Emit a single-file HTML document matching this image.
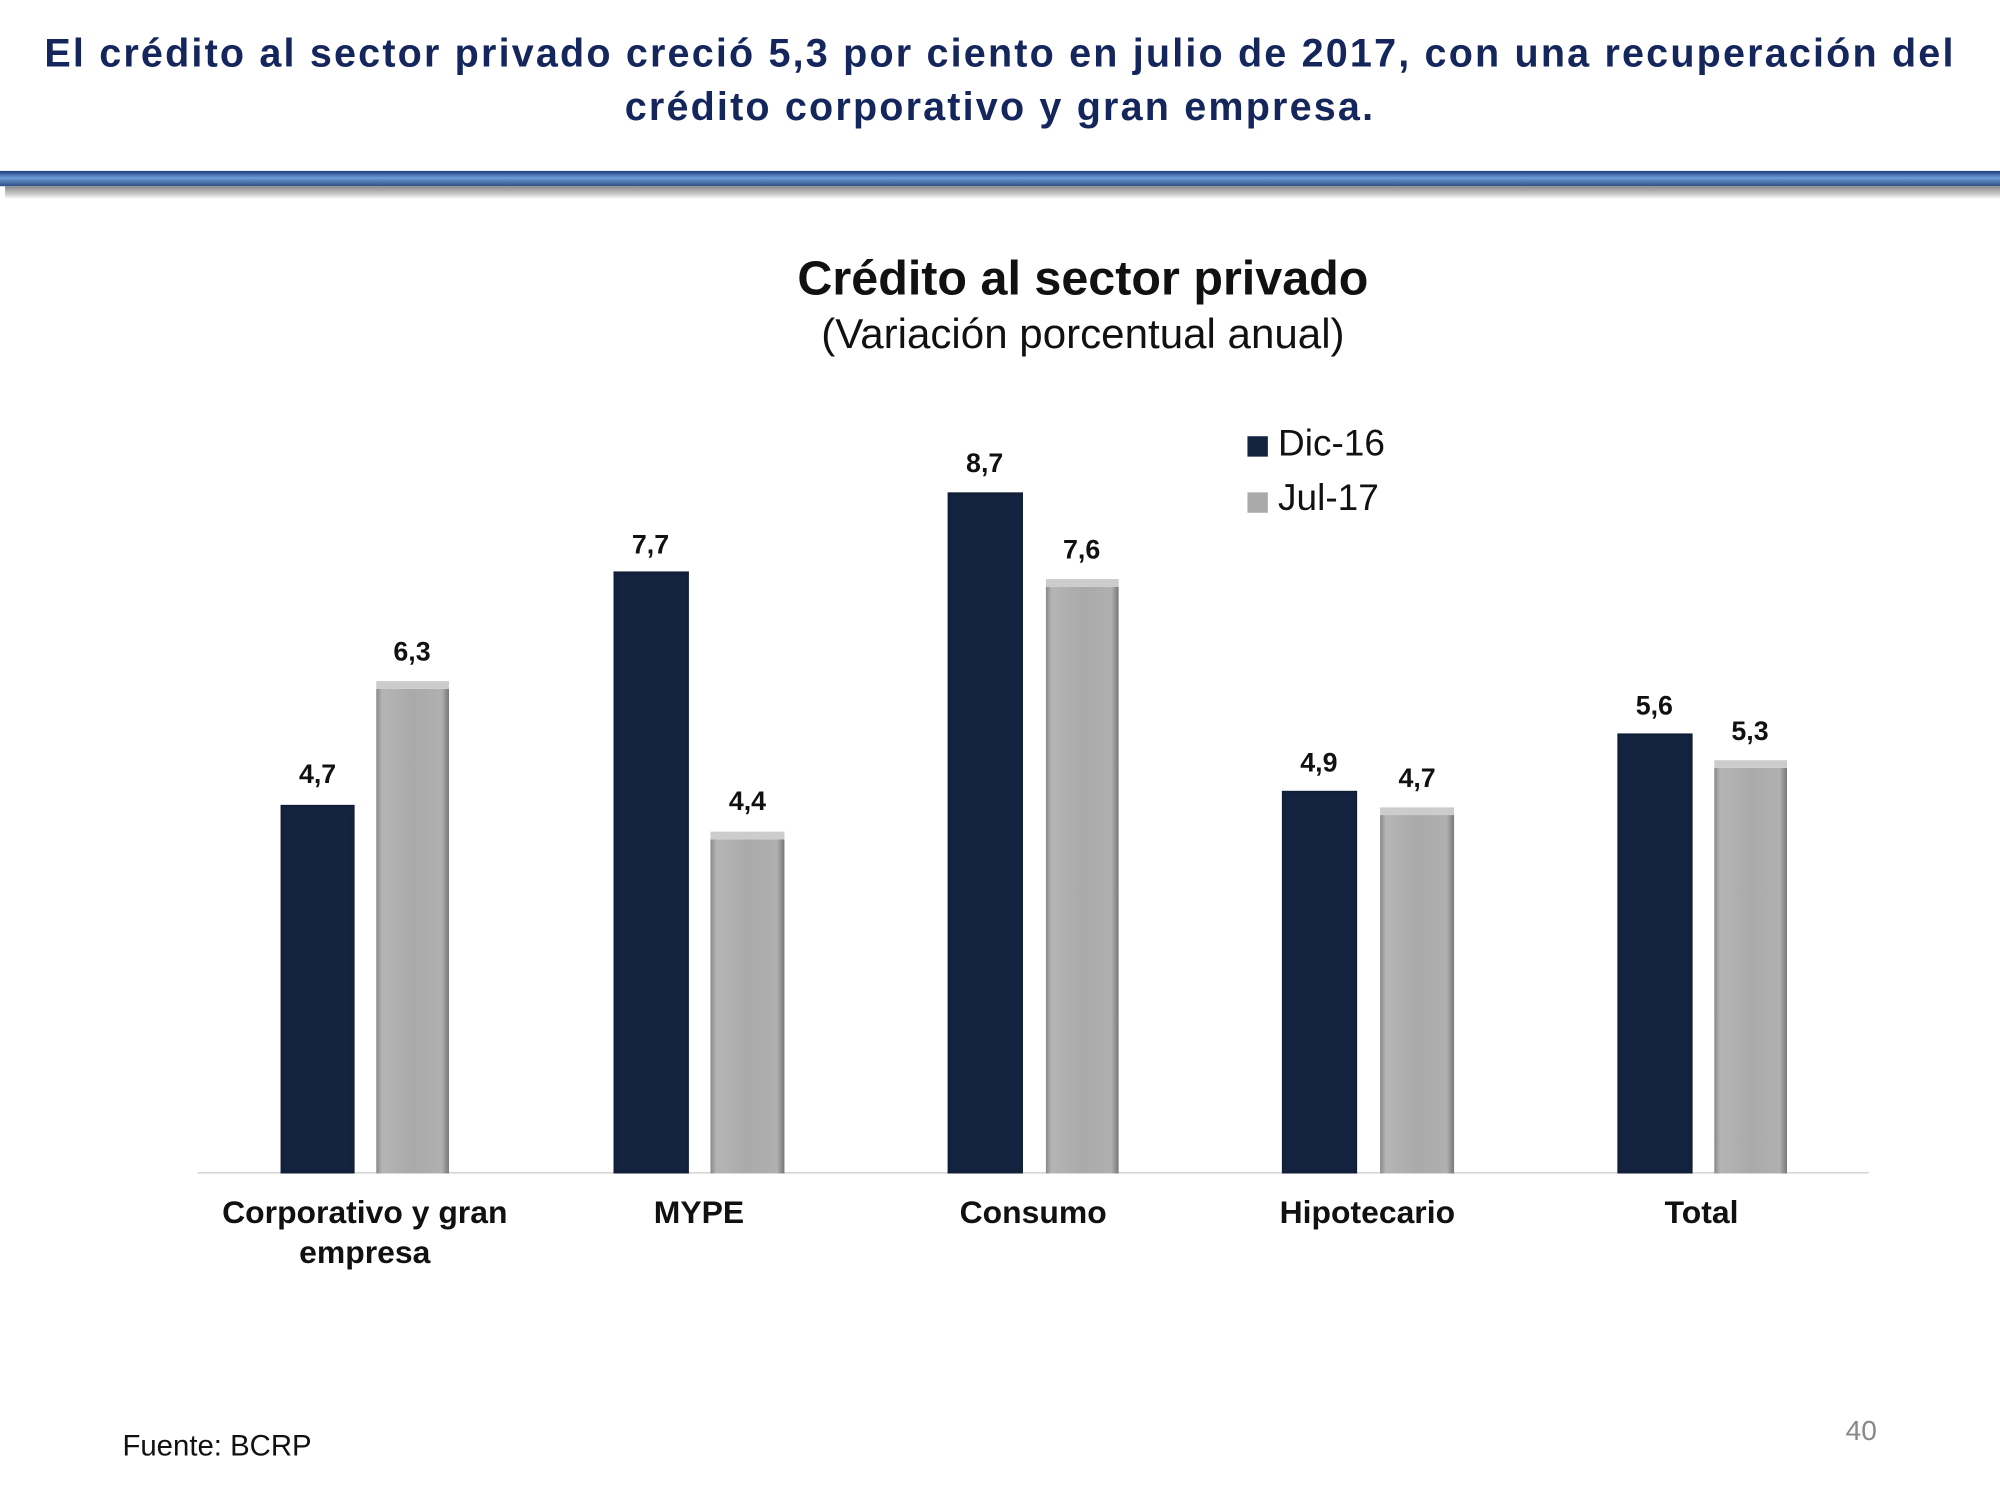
<!DOCTYPE html><html><head><meta charset="utf-8"><style>
html,body{margin:0;padding:0;background:#fff;overflow:hidden}
#w{position:absolute;left:0;top:0;width:1568px;height:1176px;transform:scale(1.27551);transform-origin:0 0;font-family:"Liberation Sans",Arial,sans-serif}
.a{position:absolute}
.t{color:#14265c;font-weight:bold;font-size:31px;text-align:center;width:1568px;left:0;line-height:42px;letter-spacing:1.7px}
.d{position:absolute;background:#14233f;box-shadow:inset 0 0 3px #0a1428}
.g{position:absolute;background:linear-gradient(90deg,#888 0,#b5b5b5 8%,#aaa 50%,#b0b0b0 90%,#777 100%);border-top:6px solid #ccc}
.v{position:absolute;font-weight:bold;font-size:21px;width:80px;text-align:center;color:#111}
.c{position:absolute;font-weight:bold;font-size:25px;width:300px;text-align:center;color:#111;line-height:31px}
</style></head><body><div id="w">
<div class="a t" style="top:21px">El crédito al sector privado creció 5,3 por ciento en julio de 2017, con una recuperación del<br>crédito corporativo y gran empresa.</div>
<div class="a" style="left:0;top:134px;width:1568px;height:12px;background:linear-gradient(#1b3d7c,#6d9ad6 45%,#2f4f86)"></div>
<div class="a" style="left:4px;top:146px;width:1564px;height:10px;background:linear-gradient(#8a8a8a,#c8c8c8 60%,#fff)"></div>
<div class="a" style="left:0;top:198px;width:1698px;text-align:center;font-weight:bold;font-size:38px;color:#111">Crédito al sector privado</div>
<div class="a" style="left:0;top:243px;width:1698px;text-align:center;font-size:33px;color:#111">(Variación porcentual anual)</div>
<div class="a" style="left:978px;top:342px;width:16px;height:16px;background:#14233f"></div>
<div class="a" style="left:1002px;top:332px;font-size:29px;color:#111">Dic-16</div>
<div class="a" style="left:978px;top:386px;width:16px;height:16px;background:#aaa"></div>
<div class="a" style="left:1002px;top:375px;font-size:29px;color:#111">Jul-17</div>
<div class="a" style="left:155px;top:919px;width:1310px;height:1px;background:#ccc"></div>
<div class="d" style="left:220px;top:631px;width:58px;height:289px"></div>
<div class="g" style="left:295px;top:534px;width:57px;height:380px"></div>
<div class="d" style="left:481px;top:448px;width:59px;height:472px"></div>
<div class="g" style="left:557px;top:652px;width:58px;height:262px"></div>
<div class="d" style="left:743px;top:386px;width:59px;height:534px"></div>
<div class="g" style="left:820px;top:454px;width:57px;height:460px"></div>
<div class="d" style="left:1005px;top:620px;width:59px;height:300px"></div>
<div class="g" style="left:1082px;top:633px;width:58px;height:281px"></div>
<div class="d" style="left:1268px;top:575px;width:59px;height:345px"></div>
<div class="g" style="left:1344px;top:596px;width:57px;height:318px"></div>
<div class="v" style="left:209px;top:596px">4,7</div>
<div class="v" style="left:283px;top:500px">6,3</div>
<div class="v" style="left:470px;top:416px">7,7</div>
<div class="v" style="left:546px;top:617px">4,4</div>
<div class="v" style="left:732px;top:352px">8,7</div>
<div class="v" style="left:808px;top:420px">7,6</div>
<div class="v" style="left:994px;top:587px">4,9</div>
<div class="v" style="left:1071px;top:599px">4,7</div>
<div class="v" style="left:1257px;top:542px">5,6</div>
<div class="v" style="left:1332px;top:562px">5,3</div>
<div class="c" style="left:136px;top:936px">Corporativo y gran<br>empresa</div>
<div class="c" style="left:398px;top:936px">MYPE</div>
<div class="c" style="left:660px;top:936px">Consumo</div>
<div class="c" style="left:922px;top:936px">Hipotecario</div>
<div class="c" style="left:1184px;top:936px">Total</div>
<div class="a" style="left:96px;top:1120px;font-size:23px;color:#111">Fuente: BCRP</div>
<div class="a" style="left:1447px;top:1109px;font-size:22px;color:#888">40</div>
</div></body></html>
